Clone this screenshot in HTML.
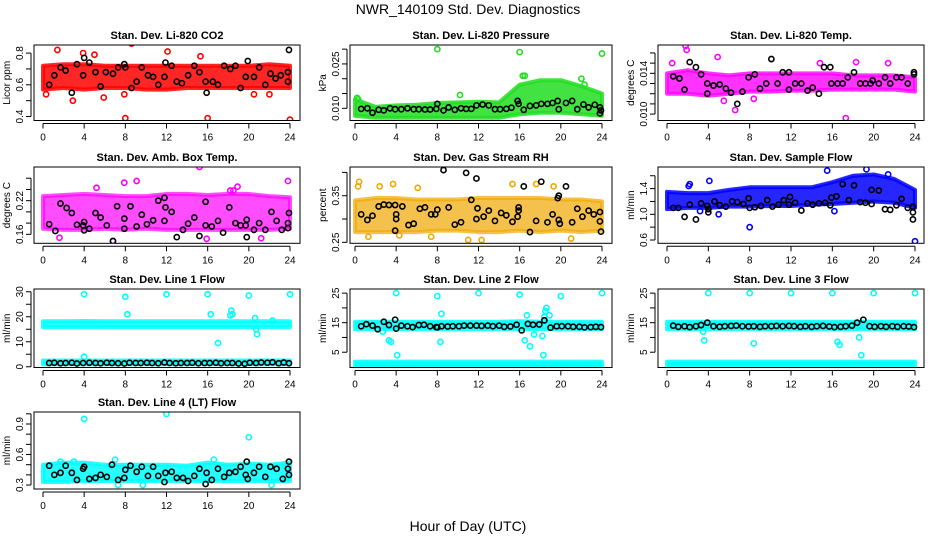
<!DOCTYPE html>
<html><head><meta charset="utf-8"><style>
html,body{margin:0;padding:0;background:#fff;}
svg{display:block;font-family:"Liberation Sans",Arial,sans-serif;}
</style></head><body>
<svg id="chart" width="936" height="540" viewBox="0 0 936 540">
<text x="468" y="14" text-anchor="middle" font-size="14">NWR_140109 Std. Dev. Diagnostics</text>
<text x="468" y="531" text-anchor="middle" font-size="14">Hour of Day (UTC)</text>
</svg>
<script>
const xTicks=[0,4,8,12,16,20,24];
const bandHours=[0,2,4,6,8,10,12,14,16,18,20,22,24];

// 1 CO2
const co2Low=[0.57,0.58,0.57,0.58,0.58,0.57,0.57,0.58,0.58,0.58,0.58,0.58,0.58];
const co2High=[0.72,0.73,0.73,0.72,0.72,0.72,0.72,0.72,0.72,0.72,0.72,0.73,0.72];
const co2OutX=[1.4,3.9,5,8.6,12.1,15.3,8,16,24,2.9,5.9,0.3,7.9,20.5,22];
const co2OutY=[0.82,0.80,0.79,0.86,0.81,0.78,0.39,0.39,0.38,0.50,0.52,0.54,0.54,0.54,0.54];
const co2BlkX=[0.6,1.1,1.7,2.2,2.8,3.3,3.9,4,4.5,5.1,5.6,6.1,6.8,7.3,7.9,8,8.6,9.1,9.6,10.2,10.7,11.2,11.8,11.9,12.5,13,13.5,14.1,14.7,15.2,15.8,15.9,16.5,17,17.6,18.2,18.7,19.2,19.7,19.9,20.5,21,21.6,22.1,22.6,23.1,23.8,23.8,23.9];
const co2BlkY=[0.6,0.66,0.71,0.69,0.55,0.73,0.66,0.77,0.74,0.68,0.59,0.68,0.67,0.71,0.73,0.71,0.58,0.62,0.71,0.66,0.65,0.60,0.65,0.74,0.72,0.62,0.61,0.66,0.72,0.68,0.62,0.55,0.62,0.60,0.72,0.70,0.72,0.58,0.65,0.75,0.65,0.71,0.60,0.67,0.64,0.66,0.68,0.62,0.82];
const co2Ticks=[0.4,0.5,0.6,0.7,0.8];
const co2Labels=["0.4","","0.6","","0.8"];

// 2 Pressure
const prsLow=[0.0075,0.0068,0.0068,0.0068,0.0068,0.0068,0.0068,0.0068,0.0080,0.0085,0.0085,0.0080,0.0075];
const prsHigh=[0.0130,0.0105,0.0110,0.0112,0.0118,0.0120,0.0122,0.0120,0.0180,0.0195,0.0195,0.0175,0.0150];
const prsOutX=[8,16,24,16.3,16.5,22,22.3,10.2,0.2,0.3];
const prsOutY=[0.030,0.029,0.0285,0.021,0.021,0.020,0.018,0.0145,0.0135,0.013];
const prsBlkX=[0.6,1.2,1.7,2.3,2.8,3.4,3.9,4.5,5.1,5.7,6.2,6.8,7.3,7.9,8.0,8.6,9.1,9.7,10.3,10.8,11.3,11.8,12.4,13,13.6,14.1,14.7,15.2,15.8,15.9,16.4,17,17.6,18.1,18.7,19.2,19.7,19.8,20.5,21.1,21.6,22.2,22.7,23.3,23.8,23.9,23.8];
const prsBlkY=[0.0098,0.010,0.0085,0.0095,0.0093,0.010,0.0097,0.0097,0.010,0.0097,0.0097,0.0096,0.0096,0.0098,0.0115,0.0093,0.0103,0.0095,0.010,0.0098,0.0098,0.011,0.0113,0.011,0.0097,0.0097,0.0098,0.0102,0.0125,0.0115,0.0095,0.0108,0.011,0.0115,0.0115,0.0118,0.0125,0.0097,0.0118,0.0125,0.0097,0.0113,0.0103,0.0112,0.0103,0.0093,0.0083];
const prsTicks=[0.010,0.015,0.020,0.025,0.030];
const prsLabels=["0.010","","","0.025",""];

// 3 Li-820 Temp
const ltLow=[0.0120,0.0120,0.0118,0.0120,0.0122,0.0122,0.0123,0.0123,0.0124,0.0124,0.0124,0.0124,0.0122];
const ltHigh=[0.0140,0.0143,0.0140,0.0138,0.0140,0.0140,0.0140,0.0140,0.0140,0.0138,0.0138,0.0138,0.0136];
const ltOutX=[1.8,1.9,17.3,6.6,18.3,21.4,5.5,8.4,4.9,0.5,14.8];
const ltOutY=[0.0167,0.0163,0.0096,0.0104,0.0151,0.0150,0.0113,0.0115,0.0156,0.0150,0.0150];
const ltBlkX=[0.6,1.2,1.7,2.2,2.8,3.3,3.9,3.9,4.5,5.1,5.7,6.2,6.8,7.3,7.9,8.5,9.0,9.6,10.1,10.7,11.2,11.8,11.8,12.4,13,13.6,14.1,14.7,15.2,15.8,15.9,16.5,17,17.5,18.1,18.7,19.2,19.7,19.9,20.5,21.1,21.6,22.2,22.7,23.3,23.9,23.9];
const ltBlkY=[0.0137,0.0135,0.0124,0.0151,0.0146,0.0139,0.0130,0.0120,0.0128,0.0129,0.0125,0.0121,0.0110,0.0122,0.0136,0.0139,0.0125,0.0130,0.0154,0.0130,0.0141,0.0141,0.0124,0.0130,0.0130,0.0123,0.0126,0.0120,0.0146,0.0146,0.0130,0.0130,0.0130,0.0136,0.0141,0.0130,0.0130,0.0130,0.0133,0.0130,0.0136,0.0130,0.0136,0.0136,0.0130,0.0141,0.0139];
const ltTicks=[0.010,0.011,0.012,0.013,0.014,0.015,0.016];
const ltLabels=["0.010","","","","0.014","",""];

// 4 Amb box temp
const abLow=[0.170,0.168,0.168,0.170,0.168,0.170,0.168,0.168,0.168,0.168,0.168,0.168,0.170];
const abHigh=[0.228,0.230,0.232,0.230,0.228,0.228,0.232,0.232,0.230,0.232,0.232,0.228,0.226];
const abOutX=[15.2,23.8,9.1,7.9,18.9,5.2,15.9,1.6,21.2,6.8,18.2,18.5];
const abOutY=[0.280,0.255,0.255,0.252,0.245,0.243,0.152,0.154,0.153,0.148,0.238,0.238];
const abBlkX=[0.6,1.2,1.7,2.3,2.8,3.3,3.9,4.0,4.0,4.5,5.1,5.6,6.2,6.8,7.2,7.9,7.9,8.5,9.1,9.6,10.1,10.7,11.2,11.8,11.8,11.9,12.5,13,13.6,14.1,14.7,15.2,15.8,15.8,16.4,17,17.5,18.1,18.7,19.2,19.7,19.8,19.8,20.5,21,21.6,22.2,22.7,23.2,23.8,23.9,23.8];
const abBlkY=[0.178,0.166,0.215,0.207,0.198,0.177,0.176,0.182,0.167,0.170,0.198,0.190,0.176,0.148,0.210,0.188,0.170,0.210,0.174,0.195,0.178,0.185,0.220,0.184,0.225,0.208,0.200,0.155,0.168,0.179,0.190,0.157,0.218,0.176,0.174,0.184,0.163,0.208,0.180,0.176,0.176,0.186,0.155,0.168,0.180,0.168,0.200,0.184,0.168,0.180,0.198,0.171];
const abTicks=[0.16,0.18,0.20,0.22,0.24,0.26];
const abLabels=["0.16","","","0.22","",""];

// 5 Gas stream RH
const rhLow=[0.272,0.272,0.272,0.272,0.275,0.275,0.272,0.272,0.275,0.272,0.275,0.272,0.275];
const rhHigh=[0.340,0.345,0.345,0.342,0.342,0.342,0.345,0.345,0.345,0.345,0.342,0.342,0.338];
const rhOutX=[0.4,0.3,2.4,3.7,6.1,1.3,11,12.3,15.3,19.3,17.6,21,7.4,4.3];
const rhOutY=[0.38,0.37,0.37,0.375,0.367,0.262,0.255,0.255,0.375,0.37,0.375,0.258,0.262,0.265];
const rhBlkX=[0.6,1.2,1.7,2.3,2.8,3.3,3.9,3.9,4.0,4.0,4.6,5.2,5.7,6.3,6.8,7.4,7.8,8,8.6,9.1,9.7,10.3,10.8,11.3,11.8,11.8,11.9,12.5,13,13.6,14.2,14.7,15.3,15.8,15.9,15.9,16.4,17,17.6,18.1,18.7,19.2,19.7,19.8,19.8,19.9,20.5,21.1,21.6,22.1,22.7,23.2,23.8,23.8,23.9];
const rhBlkY=[0.31,0.298,0.307,0.327,0.331,0.33,0.33,0.275,0.31,0.30,0.327,0.287,0.29,0.322,0.325,0.31,0.31,0.32,0.405,0.325,0.288,0.293,0.399,0.341,0.387,0.30,0.323,0.305,0.318,0.296,0.313,0.308,0.294,0.305,0.318,0.325,0.37,0.272,0.296,0.38,0.293,0.31,0.345,0.35,0.298,0.29,0.37,0.293,0.322,0.305,0.318,0.31,0.315,0.295,0.273];
const rhTicks=[0.25,0.30,0.35,0.40];
const rhLabels=["0.25","","0.35",""];

// 6 Sample flow
const sfLow=[1.08,1.10,1.10,1.12,1.12,1.13,1.13,1.15,1.16,1.18,1.20,1.18,1.10];
const sfHigh=[1.35,1.33,1.33,1.38,1.42,1.42,1.42,1.42,1.50,1.60,1.62,1.55,1.38];
const sfOutX=[2.2,2.1,4.1,8,24,15.5,19.3,5,3.2,16.2,21.4];
const sfOutY=[1.47,1.44,1.52,0.80,0.58,1.68,1.70,1.0,1.05,1.05,1.62];
const sfBlkX=[0.6,1.1,1.7,2.2,2.8,3.3,3.9,4,4,4.6,5.1,5.7,6.3,6.8,7.4,7.9,8,8.5,9.1,9.7,10.2,10.8,11.3,11.8,11.9,12.4,13.0,13.6,14.1,14.7,15.3,15.8,15.9,16.4,17.0,17.6,18.1,18.7,19.2,19.8,19.8,20.5,21.1,21.6,22.2,22.7,23.3,23.8,23.8,23.8];
const sfBlkY=[1.1,1.1,0.96,1.15,0.92,1.17,1.13,1.08,1.03,1.2,1.14,1.12,1.2,1.19,1.16,1.25,1.1,1.11,1.13,1.22,1.12,1.15,1.22,1.15,1.27,1.18,1.06,1.17,1.15,1.17,1.18,1.14,1.26,1.28,1.47,1.22,1.45,1.19,1.18,1.16,1.38,1.37,1.08,1.07,1.14,1.24,1.1,1.12,1.03,0.92];
const sfTicks=[0.6,0.8,1.0,1.2,1.4,1.6];
const sfLabels=["0.6","","1.0","","1.4",""];

// 7 Line 1 flow
const l1Low=[15.8,15.8,15.8,15.8,15.8,15.8,15.8,15.8,15.8,15.8,15.8,15.8,15.8];
const l1High=[18.2,18.2,18.3,18.2,18.2,18.2,18.2,18.2,18.2,18.2,18.2,18.2,18.2];
const l1Low2=[1.0,1.0,1.0,1.0,1.0,1.0,1.0,1.0,1.0,1.0,1.0,1.0,1.0];
const l1High2=[2.5,2.5,2.5,2.5,2.5,2.5,2.5,2.5,2.5,2.5,2.5,2.5,2.5];
const l1OutX=[4,8,12,16,20,24,4,8.2,16.3,17,18.2,18.3,18.4,20.6,20.8,20.7,22.3];
const l1OutY=[29,28,29,29,28.5,29,4,21,21,9.5,20.5,22.5,21,19.5,13,15,18.5];
const l1BlkX=[0.6,1.1,1.7,2.2,2.8,3.3,3.9,4.5,5.1,5.6,6.2,6.7,7.3,7.9,8.4,9,9.5,10.1,10.6,11.2,11.8,12.3,12.9,13.4,14,14.5,15.1,15.7,16.2,16.8,17.3,17.9,18.4,19,19.6,20.1,20.7,21.2,21.8,22.3,22.9,23.4,23.9];
const l1BlkY=[1.5,1.6,1.4,1.5,1.6,1.3,1.5,1.6,1.5,1.4,1.6,1.5,1.4,1.3,1.6,1.5,1.5,1.6,1.5,1.4,1.7,1.5,1.4,1.5,1.5,1.6,1.4,1.5,1.5,1.6,1.4,1.5,1.5,1.3,1.2,1.6,1.5,1.7,1.6,1.8,1.4,1.7,1.4];
const l1Ticks=[0,5,10,15,20,25,30];
const l1Labels=["0","","10","","20","","30"];

// 8 Line 2 flow
const l2Low=[12.8,12.8,12.8,12.8,12.8,12.8,12.8,12.8,12.8,12.8,12.8,12.8,12.8];
const l2High=[15.3,15.3,15.3,15.3,15.3,15.3,15.3,15.3,15.5,15.3,15.3,15.3,15.3];
const l2Low2=[0.3,0.3,0.3,0.3,0.3,0.3,0.3,0.3,0.3,0.3,0.3,0.3,0.3];
const l2High2=[1.8,1.8,1.8,1.8,1.8,1.8,1.8,1.8,1.8,1.8,1.8,1.8,1.8];
const l2OutX=[4,8,12,16,20,24,2.7,3.3,3.5,4.1,8.3,8.4,16.5,16.7,17,17.4,18.2,18.4,18.5,18.6,18.3,18.9];
const l2OutY=[25,24,25,24.5,24,25,12,9,8.5,4,8.5,18,9,17.5,7,11,10.5,17,19,20,4,17.5];
const l2BlkX=[0.6,1.1,1.7,2.2,2.8,3.3,3.9,4,4.5,5.1,5.6,6.2,6.7,7.3,7.9,8,8.4,9,9.5,10.1,10.6,11.2,11.8,12.3,12.9,13.4,14,14.5,15.1,15.7,16.2,16.8,17.3,17.9,18.4,19,19.6,20.1,20.7,21.2,21.8,22.3,22.9,23.4,23.9];
const l2BlkY=[13.8,14.5,14,12.8,15.3,14.2,16,13,14,13.8,13.5,14.2,14.3,13.8,13.5,13.4,13.8,13.7,13.8,13.8,14,14,14,13.9,14,13.8,14,13.6,13.7,14.3,12.4,14.6,14.3,14.4,15.8,13.3,13.8,13.8,13.8,13.6,13.6,13.4,13.5,13.6,13.5];
const l2Ticks=[5,10,15,20,25];
const l2Labels=["5","","15","","25"];

// 9 Line 3 flow
const l3Low=[12.8,12.8,12.8,12.8,12.8,12.8,12.8,12.8,12.8,12.8,12.8,12.8,12.8];
const l3High=[15.3,15.3,15.3,15.3,15.3,15.3,15.3,15.3,15.3,15.3,15.3,15.3,15.3];
const l3Low2=[0.5,0.5,0.5,0.5,0.5,0.5,0.5,0.5,0.5,0.5,0.5,0.5,0.5];
const l3High2=[1.8,1.8,1.8,1.8,1.8,1.8,1.8,1.8,1.8,1.8,1.8,1.8,1.8];
const l3OutX=[4,8,12,16,20,24,3.6,8.4,16.5,16.7,19,18.6,18.8,3.5];
const l3OutY=[25,25,25,25,25,25,9,8,8.5,7.5,16,10,4,12];
const l3BlkX=[0.6,1.1,1.7,2.2,2.8,3.3,3.9,4.5,5.1,5.6,6.2,6.7,7.3,7.9,8.4,9,9.5,10.1,10.6,11.2,11.8,12.3,12.9,13.4,14,14.5,15.1,15.7,16.2,16.8,17.3,17.9,18.4,19,19.6,20.1,20.7,21.2,21.8,22.3,22.9,23.4,23.9];
const l3BlkY=[14,13.6,13.8,13.5,13.8,14.2,15,13.8,13.6,13.8,13.9,14,13.8,13.7,13.8,13.6,13.8,13.8,13.9,13.8,13.9,13.8,13.6,13.8,13.6,13.8,13.9,13.7,13.5,13.6,13.8,14,15,16,13.8,13.6,13.8,13.6,13.8,13.6,13.8,13.7,13.5];
const l3Ticks=[5,10,15,20,25];
const l3Labels=["5","","15","","25"];

// 10 Line 4 flow
const l4Low=[0.33,0.33,0.34,0.34,0.34,0.34,0.34,0.34,0.34,0.34,0.34,0.34,0.34];
const l4High=[0.50,0.52,0.52,0.50,0.50,0.50,0.50,0.49,0.52,0.50,0.51,0.50,0.52];
const l4OutX=[4,12,20,7,16.6,1.7,3,7.3,9.7,22.2];
const l4OutY=[0.95,1.0,0.77,0.55,0.55,0.53,0.53,0.30,0.30,0.30];
const l4BlkX=[0.6,1.1,1.7,2.2,2.8,3.3,3.9,4,4.5,5.1,5.6,6.2,6.7,7.3,7.9,8,8.5,9.1,9.6,10.2,10.7,11.2,11.8,11.9,12.5,13,13.6,14.1,14.7,15.2,15.8,15.9,16.4,17,17.6,18.1,18.7,19.2,19.7,19.8,19.9,20.5,21,21.6,22.1,22.7,23.3,23.8,23.9,23.9];
const l4BlkY=[0.49,0.40,0.42,0.49,0.42,0.35,0.46,0.48,0.36,0.37,0.40,0.38,0.50,0.35,0.37,0.45,0.49,0.43,0.48,0.39,0.48,0.39,0.33,0.42,0.43,0.37,0.37,0.34,0.39,0.46,0.31,0.42,0.35,0.46,0.38,0.42,0.43,0.48,0.40,0.53,0.36,0.42,0.48,0.38,0.48,0.46,0.36,0.46,0.53,0.40];
const l4Ticks=[0.3,0.4,0.5,0.6,0.7,0.8,0.9,1.0];
const l4Labels=["0.3","","","0.6","","","0.9",""];

const NS="http://www.w3.org/2000/svg";
const svg=document.getElementById('chart');
function mk(tag,attrs,parent){const e=document.createElementNS(NS,tag);for(const k in attrs)e.setAttribute(k,attrs[k]);parent.appendChild(e);return e;}

const colBox=[[34,300,43,290],[350,612,355,602],[658,924,667,915]];
const rowBox=[[45,120.5],[167,243.3],[289,367.5],[412,489]];

const panels=[
 {name:"co2",title:"Stan. Dev. Li-820 CO2",yt:"Licor ppm",c:0,r:0,d:[0.375,0.851],col:"#ff0000",op:0.85,low:co2Low,high:co2High,ox:co2OutX,oy:co2OutY,bx:co2BlkX,by:co2BlkY,t:co2Ticks,tl:co2Labels},
 {name:"pressure",title:"Stan. Dev. Li-820 Pressure",yt:"kPa",c:1,r:0,d:[0.00588,0.0314],col:"#22dd22",op:0.85,low:prsLow,high:prsHigh,ox:prsOutX,oy:prsOutY,bx:prsBlkX,by:prsBlkY,t:prsTicks,tl:prsLabels},
 {name:"licor-temp",title:"Stan. Dev. Li-820 Temp.",yt:"degrees C",c:2,r:0,d:[0.00937,0.01678],col:"#ff00ff",op:0.8,low:ltLow,high:ltHigh,ox:ltOutX,oy:ltOutY,bx:ltBlkX,by:ltBlkY,t:ltTicks,tl:ltLabels},
 {name:"amb-box-temp",title:"Stan. Dev. Amb. Box Temp.",yt:"degrees C",c:0,r:1,d:[0.144,0.280],col:"#ff00ff",op:0.7,low:abLow,high:abHigh,ox:abOutX,oy:abOutY,bx:abBlkX,by:abBlkY,t:abTicks,tl:abLabels},
 {name:"gas-rh",title:"Stan. Dev. Gas Stream RH",yt:"percent",c:1,r:1,d:[0.2479,0.4116],col:"#f0a800",op:0.7,low:rhLow,high:rhHigh,ox:rhOutX,oy:rhOutY,bx:rhBlkX,by:rhBlkY,t:rhTicks,tl:rhLabels},
 {name:"sample-flow",title:"Stan. Dev. Sample Flow",yt:"ml/min",c:2,r:1,d:[0.549,1.736],col:"#0000ff",op:0.85,low:sfLow,high:sfHigh,ox:sfOutX,oy:sfOutY,bx:sfBlkX,by:sfBlkY,t:sfTicks,tl:sfLabels},
 {name:"line1-flow",title:"Stan. Dev. Line 1 Flow",yt:"ml/min",c:0,r:2,d:[-0.3,31.1],col:"#00ffff",op:0.85,low:l1Low,high:l1High,low2:l1Low2,high2:l1High2,ox:l1OutX,oy:l1OutY,bx:l1BlkX,by:l1BlkY,t:l1Ticks,tl:l1Labels},
 {name:"line2-flow",title:"Stan. Dev. Line 2 Flow",yt:"ml/min",c:1,r:2,d:[-0.17,26.4],col:"#00ffff",op:0.85,low:l2Low,high:l2High,low2:l2Low2,high2:l2High2,ox:l2OutX,oy:l2OutY,bx:l2BlkX,by:l2BlkY,t:l2Ticks,tl:l2Labels},
 {name:"line3-flow",title:"Stan. Dev. Line 3 Flow",yt:"ml/min",c:2,r:2,d:[-0.17,26.4],col:"#00ffff",op:0.85,low:l3Low,high:l3High,low2:l3Low2,high2:l3High2,ox:l3OutX,oy:l3OutY,bx:l3BlkX,by:l3BlkY,t:l3Ticks,tl:l3Labels},
 {name:"line4-flow",title:"Stan. Dev. Line 4 (LT) Flow",yt:"ml/min",c:0,r:3,d:[0.261,1.018],col:"#00ffff",op:0.85,low:l4Low,high:l4High,ox:l4OutX,oy:l4OutY,bx:l4BlkX,by:l4BlkY,t:l4Ticks,tl:l4Labels}
];

panels.forEach(p=>{
  const [L,R,x0,x24]=colBox[p.c];const [T,B]=rowBox[p.r];
  const xs=h=>x0+(h/24)*(x24-x0);
  const ys=v=>B-(v-p.d[0])/(p.d[1]-p.d[0])*(B-T);
  const g=mk('g',{},svg);
  
  
  const cp=mk('clipPath',{id:'cp-'+p.name},g);
  mk('rect',{x:L,y:T,width:R-L,height:B-T},cp);
  const plot=mk('g',{'clip-path':'url(#cp-'+p.name+')'},g);
  const addBand=(lo,hi,nm)=>{
    let pts=bandHours.map((h,i)=>xs(h)+','+ys(hi[i]));
    pts=pts.concat(bandHours.slice().reverse().map((h,i)=>xs(h)+','+ys(lo[bandHours.length-1-i])));
    const b=mk('polygon',{points:pts.join(' '),fill:p.col,'fill-opacity':p.op,stroke:p.col,'stroke-opacity':p.op,'stroke-width':4,'stroke-linejoin':'round'},plot);
    
    
  };
  addBand(p.low,p.high,p.name+'-point-cloud');
  if(p.low2)addBand(p.low2,p.high2,p.name+'-point-cloud-low');
  p.ox.forEach((h,i)=>{
    const c=mk('circle',{cx:xs(h),cy:ys(p.oy[i]),r:2.6,fill:'none',stroke:p.col,'stroke-width':1.6},plot);
    
    
  });
  p.bx.forEach((h,i)=>{
    const c=mk('circle',{cx:xs(h),cy:ys(p.by[i]),r:2.6,fill:'none',stroke:'#000','stroke-width':1.6},plot);
    
    
  });
  const box=mk('rect',{x:L,y:T,width:R-L,height:B-T,fill:'none',stroke:'#000','stroke-width':1},g);
  
  
  const tt=mk('text',{x:(L+R)/2,y:T-6,'text-anchor':'middle','font-size':11,'font-weight':'bold'},g);
  tt.textContent=p.title;
  
  
  mk('line',{x1:xs(xTicks[0]),x2:xs(xTicks[xTicks.length-1]),y1:B+3,y2:B+3,stroke:'#000'},g);
  xTicks.forEach(h=>{
    mk('line',{x1:xs(h),x2:xs(h),y1:B+3,y2:B+8,stroke:'#000'},g);
    const t=mk('text',{x:xs(h),y:B+20,'text-anchor':'middle','font-size':10},g);
    t.textContent=String(h);
    
    
  });
  const yt0=ys(p.t[0]),yt1=ys(p.t[p.t.length-1]);
  mk('line',{x1:L-3,x2:L-3,y1:Math.min(B,yt0),y2:Math.max(T,yt1),stroke:'#000'},g);
  p.t.forEach((v,i)=>{
    const y=ys(v);if(y<T-1||y>B+1)return;
    mk('line',{x1:L-3,x2:L-8,y1:y,y2:y,stroke:'#000'},g);
    if(p.tl[i]){
      const t=mk('text',{x:L-11,y:y,'text-anchor':'middle','font-size':10,transform:'rotate(-90 '+(L-11)+' '+y+')'},g);
      t.textContent=p.tl[i];
      
      
    }
  });
  const yl=mk('text',{x:L-24,y:(T+B)/2,'text-anchor':'middle','font-size':10,transform:'rotate(-90 '+(L-24)+' '+((T+B)/2)+')'},g);
  yl.textContent=p.yt;
  
  
});
</script>
</body></html>
